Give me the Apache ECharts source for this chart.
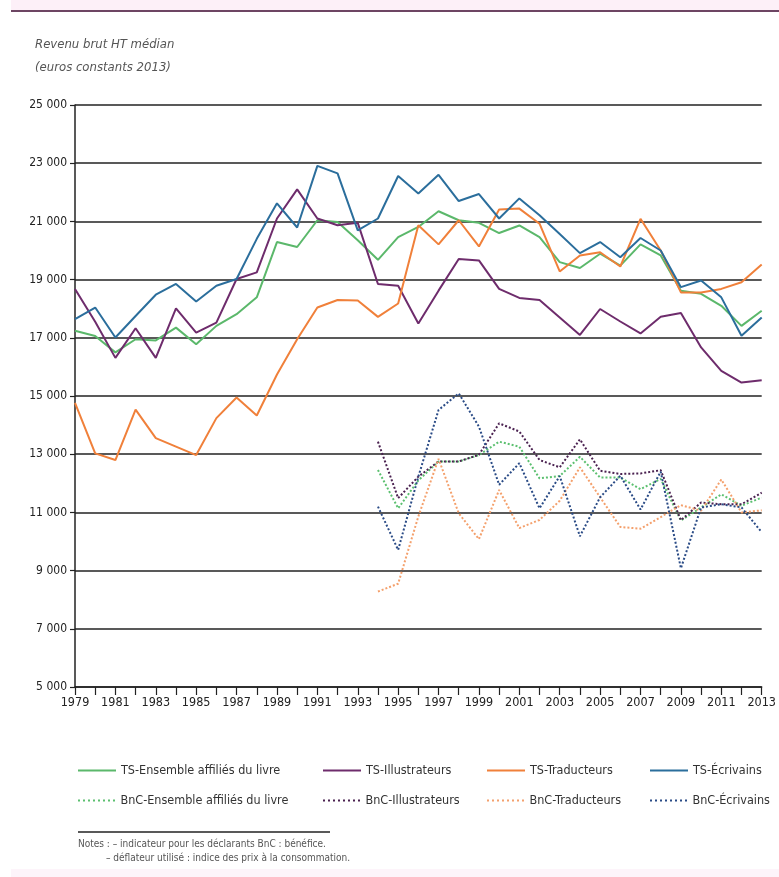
<!DOCTYPE html>
<html>
<head>
<meta charset="utf-8">
<script src="https://cdn.jsdelivr.net/npm/echarts@6/dist/echarts.min.js"></script>
<style>
html,body{margin:0;padding:0;background:#fff;}
#chart{width:779px;height:877px;}
</style>
</head>
<body>
<div id="chart"></div>
<script>
var years = [];
for (var y = 1979; y <= 2013; y++) years.push(String(y));

var yTicks = [5000, 7000, 9000, 11000, 13000, 15000, 17000, 19000, 21000, 23000, 25000];

var tsEnsemble = [17240,17060,16500,16950,16910,17350,16780,17410,17810,18390,20290,20120,21040,20980,20350,19680,20460,20810,21350,21040,20950,20600,20860,20460,19600,19400,19890,19480,20210,19830,18620,18510,18100,17410,17930];
var tsIllustrateurs = [18680,17550,16310,17330,16310,18010,17180,17520,19020,19250,21100,22100,21100,20870,20950,18850,18790,17490,18620,19710,19660,18680,18370,18300,17700,17100,17990,17560,17150,17720,17850,16670,15860,15460,15540];
var tsTraducteurs = [14760,13030,12800,14530,13550,13260,12970,14240,14950,14330,15740,16950,18040,18300,18280,17720,18180,20870,20210,21040,20140,21410,21440,20920,19280,19830,19940,19450,21090,20000,18560,18560,18680,18910,19520];
var tsEcrivains = [17640,18040,17010,17750,18480,18850,18250,18790,19020,20400,21620,20790,22910,22650,20690,21100,22560,21960,22600,21700,21940,21100,21790,21210,20570,19910,20290,19770,20430,20000,18740,18970,18390,17070,17700];

var pre = [null,null,null,null,null,null,null,null,null,null,null,null,null,null,null];
var bncEnsemble = pre.concat([12460,11140,12100,12750,12750,12970,13430,13260,12170,12250,12910,12200,12200,11800,12150,10720,11170,11620,11230,11510]);
var bncIllustrateurs = pre.concat([13430,11490,12230,12750,12750,12980,14060,13780,12800,12550,13510,12430,12320,12340,12450,10730,11340,11280,11280,11680]);
var bncTraducteurs = pre.concat([8280,8550,10860,12840,10970,10080,11770,10460,10740,11400,12550,11520,10500,10440,10840,11250,11060,12130,11000,11070]);
var bncEcrivains = pre.concat([11200,9710,12230,14520,15090,13950,11950,12690,11140,12250,10180,11520,12260,11100,12400,9080,11170,11280,11170,10320]);

var seriesNames = [
  'TS-Ensemble affiliés du livre','TS-Illustrateurs','TS-Traducteurs','TS-Écrivains',
  'BnC-Ensemble affiliés du livre','BnC-Illustrateurs','BnC-Traducteurs','BnC-Écrivains'
];
var seriesData = [tsEnsemble, tsIllustrateurs, tsTraducteurs, tsEcrivains, bncEnsemble, bncIllustrateurs, bncTraducteurs, bncEcrivains];
var colors = ['#5bb86b','#6e2c6c','#f0803a','#2b6e9c','#5cc070','#4a2150','#f4a06c','#2a4b86'];

var FONT = "'Liberation Sans Narrow', 'DejaVu Sans Condensed', 'Noto Sans', sans-serif";

var series = seriesNames.map(function (n, i) {
  var dotted = i >= 4;
  return {
    name: n,
    type: 'line',
    data: seriesData[i],
    symbol: 'none',
    showSymbol: false,
    connectNulls: false,
    itemStyle: { color: colors[i] },
    lineStyle: { color: colors[i], width: 2, type: dotted ? 'dotted' : 'solid' },
    z: dotted ? 3 : 4
  };
});

var dotPath = 'path://M0,0h2v2h-2z M5,0h2v2h-2z M10,0h2v2h-2z M15,0h2v2h-2z M20,0h2v2h-2z M25,0h2v2h-2z M30,0h2v2h-2z M35,0h2v2h-2z';
var legendLefts = [78, 323, 487, 650];
var legends = seriesNames.map(function (n, i) {
  return {
    show: true,
    data: [{ name: n, icon: i < 4 ? 'rect' : dotPath }],
    left: legendLefts[i % 4],
    top: i < 4 ? 764 : 794,
    padding: 0,
    itemWidth: 38,
    itemHeight: 2,
    itemGap: 6,
    textStyle: { fontFamily: FONT, fontSize: 12.5, color: '#333' },
    selectedMode: false
  };
});

function fmt(v) {
  return String(v).replace(/\B(?=(\d{3})+(?!\d))/g, ' ');
}

var chart = echarts.init(document.getElementById('chart'));
chart.setOption({
  backgroundColor: '#ffffff',
  animation: false,
  grid: { left: 75, right: 15, top: 105, bottom: 190, containLabel: false },
  legend: legends,
  xAxis: {
    type: 'category',
    data: years,
    boundaryGap: false,
    axisLine: { lineStyle: { color: '#222', width: 1.5 } },
    axisTick: { show: true, interval: 0, length: 8, inside: false, lineStyle: { color: '#222', width: 1.2 } },
    axisLabel: { interval: 1, margin: 9, fontFamily: FONT, fontSize: 12.5, color: '#222' },
    splitLine: { show: false }
  },
  yAxis: {
    type: 'value',
    min: yTicks[0],
    max: yTicks[yTicks.length - 1],
    interval: 2000,
    axisLine: { show: true, lineStyle: { color: '#222', width: 1.5 } },
    axisTick: { show: true, length: 5, lineStyle: { color: '#222', width: 1.2 } },
    axisLabel: { margin: 8, fontFamily: FONT, fontSize: 12, color: '#222', formatter: fmt },
    splitLine: { show: true, lineStyle: { color: '#222', width: 1.5 } }
  },
  series: series,
  graphic: [
    { type: 'rect', shape: { x: 11, y: 0, width: 768, height: 11 }, style: { fill: '#fdf0f8' }, silent: true },
    { type: 'line', shape: { x1: 11, y1: 11, x2: 779, y2: 11 }, style: { stroke: '#6d4563', lineWidth: 2 }, silent: true },
    { type: 'rect', shape: { x: 11, y: 869, width: 768, height: 8 }, style: { fill: '#fdf4fa' }, silent: true },
    { type: 'text', left: 35, top: 38, style: { text: 'Revenu brut HT médian', fontFamily: FONT, fontStyle: 'italic', fontSize: 13, fill: '#555' } },
    { type: 'text', left: 35, top: 61, style: { text: '(euros constants 2013)', fontFamily: FONT, fontStyle: 'italic', fontSize: 13, fill: '#555' } },
    { type: 'line', shape: { x1: 78, y1: 832, x2: 330, y2: 832 }, style: { stroke: '#222', lineWidth: 1.5 }, silent: true },
    { type: 'text', left: 78, top: 839, style: { text: 'Notes : – indicateur pour les déclarants BnC : bénéfice.', fontFamily: FONT, fontSize: 10, fill: '#555' } },
    { type: 'text', left: 106, top: 853, style: { text: '– déflateur utilisé : indice des prix à la consommation.', fontFamily: FONT, fontSize: 10, fill: '#555' } }
  ]
});
</script>
</body>
</html>
